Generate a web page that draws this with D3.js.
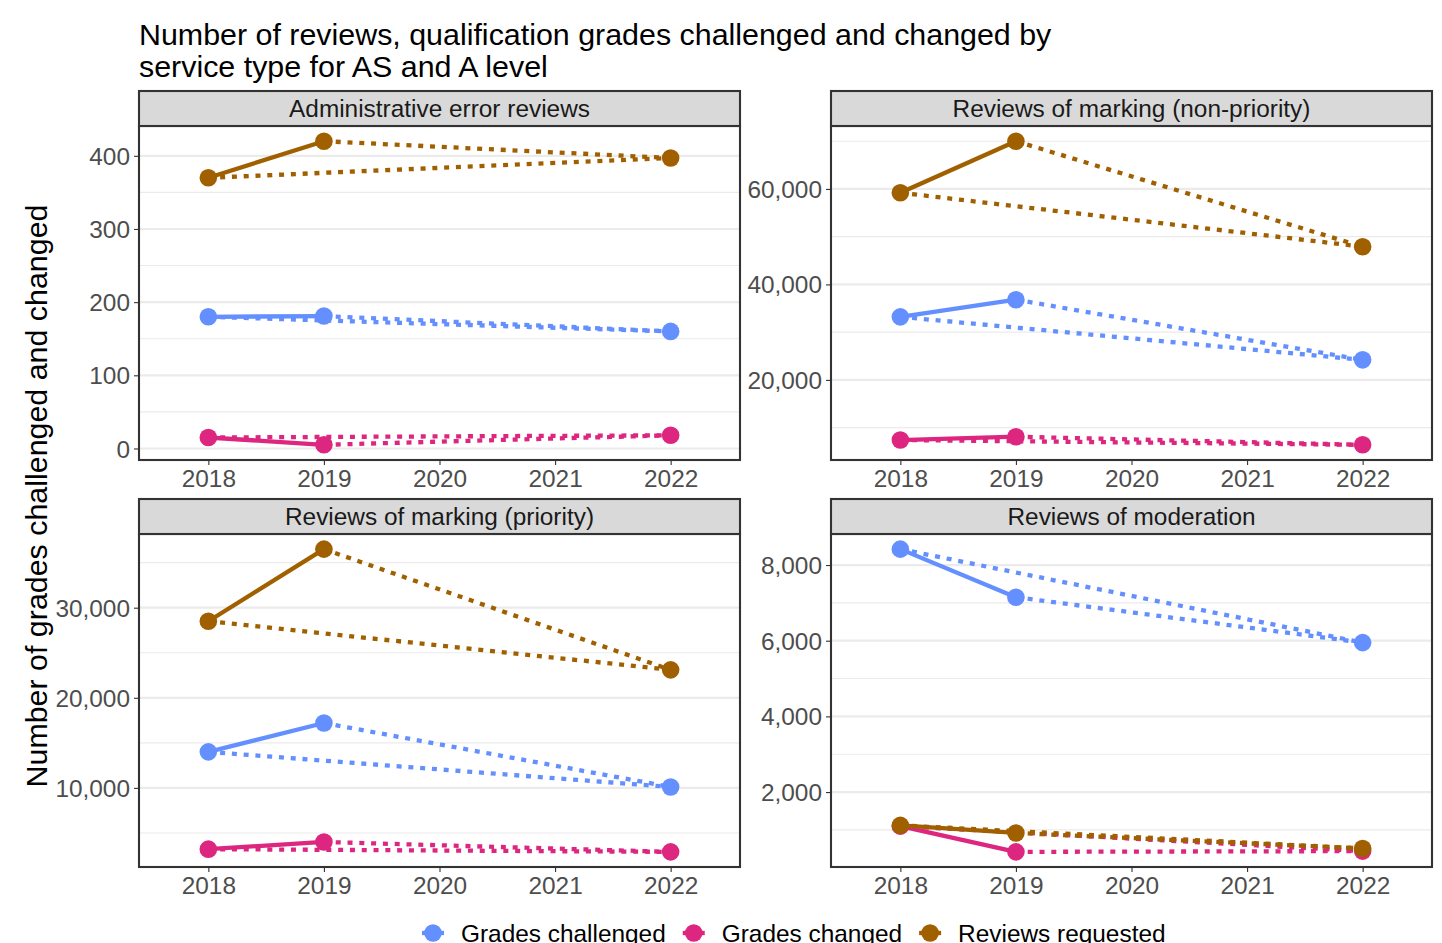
<!DOCTYPE html>
<html>
<head>
<meta charset="utf-8">
<script src="https://cdn.jsdelivr.net/npm/d3@7"></script>
<style>
  html, body { margin: 0; padding: 0; background: #ffffff; }
  svg { display: block; font-family: "Liberation Sans", Arial, Helvetica, sans-serif; }
</style>
</head>
<body>
<svg id="chart" width="1442" height="943"></svg>
<script>
// ---------------- DATA ----------------
const titleLines = ["Number of reviews, qualification grades challenged and changed by",
                    "service type for AS and A level"];
const yAxisTitle = "Number of grades challenged and changed";
const years = [2018, 2019, 2022];
const xTicks = [2018, 2019, 2020, 2021, 2022];
const serviceTypes = ["Administrative error reviews", "Reviews of marking (non-priority)",
                      "Reviews of marking (priority)", "Reviews of moderation"];
const seriesNames = ["Grades challenged", "Grades changed", "Reviews requested"];
const seriesColors = ["#648FFF", "#DC267F", "#A06000"];

const adminChallenged = [180, 181, 160];
const adminChanged = [15, 5, 18];
const adminRequested = [370, 420, 397];

const nonPriorityChallenged = [33200, 36800, 24200];
const nonPriorityChanged = [7400, 8100, 6400];
const nonPriorityRequested = [59200, 70000, 47900];

const priorityChallenged = [14000, 17200, 10100];
const priorityChanged = [3200, 4000, 2900];
const priorityRequested = [28500, 36500, 23100];

const moderationChallenged = [8420, 7150, 5950];
const moderationChanged = [1100, 420, 440];
const moderationRequested = [1120, 920, 510];

const adminTicks = [0, 100, 200, 300, 400];
const nonPriorityTicks = [20000, 40000, 60000];
const priorityTicks = [10000, 20000, 30000];
const moderationTicks = [2000, 4000, 6000, 8000];

const adminMinor = [50, 150, 250, 350];
const nonPriorityMinor = [10000, 30000, 50000, 70000];
const priorityMinor = [5000, 15000, 25000, 35000];
const moderationMinor = [1000, 3000, 5000, 7000];

// build panel table from the arrays
const panels = [
  { name: serviceTypes[0], values: [adminChallenged, adminChanged, adminRequested], ticks: adminTicks, minor: adminMinor },
  { name: serviceTypes[1], values: [nonPriorityChallenged, nonPriorityChanged, nonPriorityRequested], ticks: nonPriorityTicks, minor: nonPriorityMinor },
  { name: serviceTypes[2], values: [priorityChallenged, priorityChanged, priorityRequested], ticks: priorityTicks, minor: priorityMinor },
  { name: serviceTypes[3], values: [moderationChallenged, moderationChanged, moderationRequested], ticks: moderationTicks, minor: moderationMinor }
];

// ---------------- LAYOUT ----------------
const svg = d3.select("#chart");
svg.append("rect").attr("width", 1442).attr("height", 943).attr("fill", "#ffffff");

const colX = [139, 831];
const panelW = 601;
const rowStripTop = [91, 499];
const stripH = 35;
const rowPlotBottom = [460, 867];

const tickColor = "#4D4D4D";
const frameColor = "#333333";
const gridColor = "#EBEBEB";
const smallFont = 24.4;
const bigFont = 30.4;

// title
svg.append("g").selectAll("text").data(titleLines).join("text")
  .attr("x", 139)
  .attr("y", (d, i) => 45 + i * 32)
  .attr("font-size", bigFont)
  .attr("fill", "#000000")
  .text(d => d);

// y-axis title
svg.append("text")
  .attr("transform", "translate(47,496) rotate(-90)")
  .attr("text-anchor", "middle")
  .attr("font-size", bigFont)
  .attr("fill", "#000000")
  .text(yAxisTitle);

const lineW = 4.3;
const dash = "5,6.8";

panels.forEach((p, pi) => {
  const col = pi % 2, row = Math.floor(pi / 2);
  const x0 = colX[col], x1 = x0 + panelW;
  const stripTop = rowStripTop[row];
  const plotTop = stripTop + stripH;
  const plotBottom = rowPlotBottom[row];

  const all = p.values.flat();
  const mn = d3.min(all), mx = d3.max(all);
  const pad = (mx - mn) * 0.05;

  const x = d3.scaleLinear().domain([2017.4, 2022.6]).range([x0, x1]);
  const y = d3.scaleLinear().domain([mn - pad, mx + pad]).range([plotBottom, plotTop]);

  const g = svg.append("g");

  g.append("rect").attr("x", x0).attr("y", plotTop).attr("width", panelW).attr("height", plotBottom - plotTop)
    .attr("fill", "#ffffff");

  // minor grid
  g.append("g").selectAll("line").data(p.minor).join("line")
    .attr("x1", x0).attr("x2", x1)
    .attr("y1", d => y(d)).attr("y2", d => y(d))
    .attr("stroke", gridColor).attr("stroke-width", 1.1);
  // major grid
  g.append("g").selectAll("line").data(p.ticks).join("line")
    .attr("x1", x0).attr("x2", x1)
    .attr("y1", d => y(d)).attr("y2", d => y(d))
    .attr("stroke", gridColor).attr("stroke-width", 2.2);

  // axes
  const fmt = d3.format(",");
  const yAxis = d3.axisLeft(y).tickValues(p.ticks).tickFormat(fmt).tickSize(5).tickPadding(4);
  const ya = g.append("g").attr("transform", `translate(${x0},0)`).call(yAxis);
  ya.select(".domain").remove();
  ya.selectAll(".tick line").attr("stroke", frameColor).attr("stroke-width", 1.1);
  ya.selectAll(".tick text").attr("fill", tickColor).attr("font-size", smallFont)
    .attr("font-family", "Liberation Sans, Arial, sans-serif").attr("dy", "0.35em");

  const xAxis = d3.axisBottom(x).tickValues(xTicks).tickFormat(d3.format("d")).tickSize(5).tickPadding(4);
  const xa = g.append("g").attr("transform", `translate(0,${plotBottom})`).call(xAxis);
  xa.select(".domain").remove();
  xa.selectAll(".tick line").attr("stroke", frameColor).attr("stroke-width", 1.1);
  xa.selectAll(".tick text").attr("fill", tickColor).attr("font-size", smallFont)
    .attr("font-family", "Liberation Sans, Arial, sans-serif").attr("dy", "0.72em");

  // series lines: solid 2018-2019, dotted 2019-2022, dotted 2018-2022
  const segs = [[0, 1, null], [1, 2, dash], [0, 2, dash]];
  const lg = g.append("g");
  p.values.forEach((vals, si) => {
    segs.forEach(([a, b, da]) => {
      lg.append("line")
        .attr("x1", x(years[a])).attr("y1", y(vals[a]))
        .attr("x2", x(years[b])).attr("y2", y(vals[b]))
        .attr("stroke", seriesColors[si])
        .attr("stroke-width", lineW)
        .attr("stroke-dasharray", da)
        .attr("stroke-linecap", "butt");
    });
  });
  // points
  const pg = g.append("g");
  p.values.forEach((vals, si) => {
    pg.selectAll(null).data(vals).join("circle")
      .attr("cx", (d, i) => x(years[i]))
      .attr("cy", d => y(d))
      .attr("r", 8.8)
      .attr("fill", seriesColors[si]);
  });

  // panel border
  g.append("rect").attr("x", x0).attr("y", plotTop).attr("width", panelW).attr("height", plotBottom - plotTop)
    .attr("fill", "none").attr("stroke", frameColor).attr("stroke-width", 2.1);

  // strip
  g.append("rect").attr("x", x0).attr("y", stripTop).attr("width", panelW).attr("height", stripH)
    .attr("fill", "#D9D9D9").attr("stroke", frameColor).attr("stroke-width", 2.1);
  g.append("text")
    .attr("x", (x0 + x1) / 2).attr("y", stripTop + stripH / 2)
    .attr("dy", "0.36em")
    .attr("text-anchor", "middle")
    .attr("font-size", smallFont)
    .attr("fill", "#1A1A1A")
    .text(p.name);
});

// legend (bottom, partly clipped by the image edge as in the reference)
const leg = svg.append("g");
let lx = 422;
const ly = 933;
seriesNames.forEach((name, i) => {
  const item = leg.append("g");
  item.append("line").attr("x1", lx).attr("x2", lx + 22).attr("y1", ly).attr("y2", ly)
    .attr("stroke", seriesColors[i]).attr("stroke-width", lineW);
  item.append("circle").attr("cx", lx + 11).attr("cy", ly).attr("r", 8.8).attr("fill", seriesColors[i]);
  const t = item.append("text").attr("x", lx + 39).attr("y", ly).attr("dy", "0.36em")
    .attr("font-size", smallFont).attr("fill", "#000000").text(name);
  const w = t.node().getComputedTextLength();
  lx = lx + 39 + w + 17;
});
</script>
</body>
</html>
